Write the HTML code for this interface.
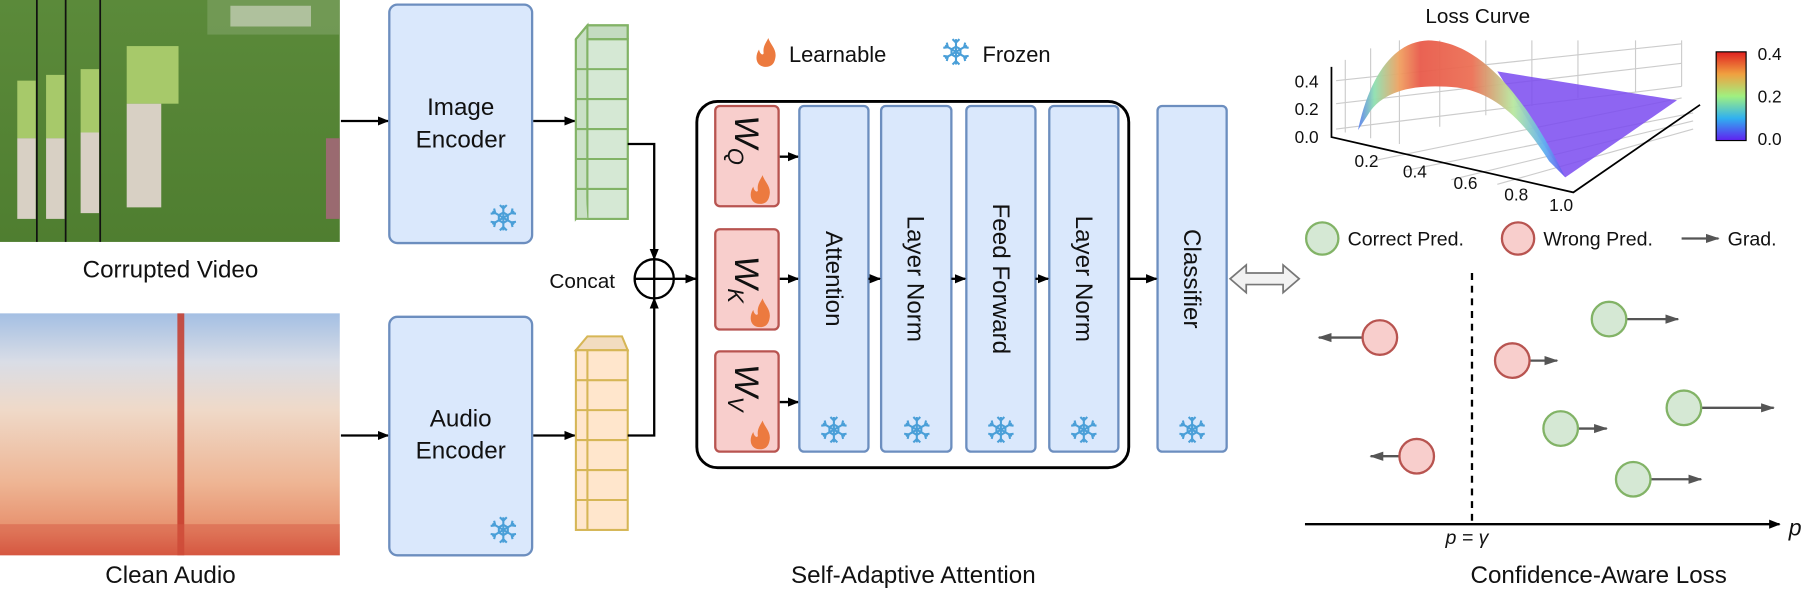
<!DOCTYPE html>
<html><head><meta charset="utf-8"><style>
html,body{margin:0;padding:0;background:#fff;width:1806px;height:591px;overflow:hidden;}
svg text{font-family:"Liberation Sans",sans-serif;fill:#111;}
</style></head><body>
<svg width="1806" height="591" viewBox="0 0 1568 513" preserveAspectRatio="none" xmlns="http://www.w3.org/2000/svg" style="display:block">
<defs>
<marker id="ah" markerWidth="10" markerHeight="10" refX="9" refY="5" orient="auto" markerUnits="userSpaceOnUse"><path d="M0,1 L10,5 L0,9 Z" fill="#000"/></marker>
<marker id="ag" markerWidth="12" markerHeight="10" refX="11" refY="5" orient="auto" markerUnits="userSpaceOnUse"><path d="M0,1 L12,5 L0,9 Z" fill="#555"/></marker>
<linearGradient id="spec" x1="0" y1="0" x2="0" y2="1">
<stop offset="0" stop-color="#a4bfe3"/><stop offset="0.2" stop-color="#d9dde6"/><stop offset="0.4" stop-color="#efd9c8"/><stop offset="0.7" stop-color="#eeb594"/><stop offset="0.9" stop-color="#e78f6c"/><stop offset="1" stop-color="#d6553e"/></linearGradient>
<linearGradient id="grass" x1="0" y1="0" x2="0" y2="1"><stop offset="0" stop-color="#5b8a3a"/><stop offset="1" stop-color="#4f7e30"/></linearGradient>
<linearGradient id="surf" x1="1179" y1="0" x2="1359" y2="0" gradientUnits="userSpaceOnUse">
<stop offset="0" stop-color="#5a7ff0"/><stop offset="0.08" stop-color="#8fe0b0"/><stop offset="0.2" stop-color="#f0a060"/><stop offset="0.3" stop-color="#e85a4a"/><stop offset="0.55" stop-color="#ec7055"/><stop offset="0.75" stop-color="#b8e8a0"/><stop offset="0.9" stop-color="#60b0f0"/><stop offset="1" stop-color="#6a50f0"/></linearGradient>
<linearGradient id="cbar" x1="0" y1="0" x2="0" y2="1"><stop offset="0" stop-color="#e02020"/><stop offset="0.25" stop-color="#f0a040"/><stop offset="0.5" stop-color="#a0f080"/><stop offset="0.75" stop-color="#30b0f0"/><stop offset="1" stop-color="#6020f0"/></linearGradient>
<g id="snow" stroke="#4a9fd8" stroke-width="1.8" fill="none">
<path d="M0,-11V11M-9.5,-5.5L9.5,5.5M-9.5,5.5L9.5,-5.5"/>
<path d="M-3,-11L0,-8L3,-11M-3,11L0,8L3,11M-11,-3.5L-7,-4L-8,-8M11,3.5L7,4L8,8M-11,3.5L-7,4L-8,8M11,-3.5L7,-4L8,-8"/>
<path d="M0,-4.5L3.9,-2.25L3.9,2.25L0,4.5L-3.9,2.25L-3.9,-2.25Z"/></g>
<g id="flame"><path d="M0,12 C-9,12 -10,3 -6,-3 C-5,2 -2,2 -2,0 C-3,-6 1,-10 2,-13 C4,-7 10,-3 8,5 C7,10 4,12 0,12Z" fill="#ec7a3f"/></g>
</defs>

<!-- video -->
<rect x="0" y="0" width="295" height="210" fill="url(#grass)"/>
<rect x="180" y="0" width="115" height="30" fill="#7aa060" opacity="0.7"/>
<rect x="200" y="5" width="70" height="18" fill="#d8dccf" opacity="0.6"/>
<g fill="#a7c96a"><rect x="15" y="70" width="16" height="50"/><rect x="40" y="65" width="16" height="55"/><rect x="70" y="60" width="16" height="55"/><rect x="110" y="40" width="45" height="50"/></g>
<g fill="#d8d0c4"><rect x="15" y="120" width="16" height="70"/><rect x="40" y="120" width="16" height="70"/><rect x="70" y="115" width="16" height="70"/><rect x="110" y="90" width="30" height="90"/></g>
<rect x="283" y="120" width="12" height="70" fill="#9a6a70"/>
<g stroke="#111" stroke-width="1.5"><line x1="32" y1="0" x2="32" y2="210"/><line x1="57" y1="0" x2="57" y2="210"/><line x1="87" y1="0" x2="87" y2="210"/></g>
<text x="148" y="241" font-size="21" text-anchor="middle">Corrupted Video</text>

<!-- spectrogram -->
<rect x="0" y="272" width="295" height="210" fill="url(#spec)"/>
<rect x="154" y="272" width="6" height="210" fill="#c63a2a" opacity="0.85"/>
<rect x="0" y="455" width="295" height="27" fill="#d65a44" opacity="0.5"/>
<text x="148" y="506" font-size="21" text-anchor="middle">Clean Audio</text>

<!-- encoders -->
<line x1="296" y1="105" x2="337" y2="105" stroke="#000" stroke-width="2" marker-end="url(#ah)"/>
<line x1="296" y1="378" x2="337" y2="378" stroke="#000" stroke-width="2" marker-end="url(#ah)"/>
<rect x="338" y="4" width="124" height="207" rx="7" fill="#dae8fc" stroke="#6c8ebf" stroke-width="2"/>
<text x="400" y="100" font-size="21" text-anchor="middle">Image</text><text x="400" y="128" font-size="21" text-anchor="middle">Encoder</text>
<use href="#snow" x="437" y="189"/>
<rect x="338" y="275" width="124" height="207" rx="7" fill="#dae8fc" stroke="#6c8ebf" stroke-width="2"/>
<text x="400" y="370" font-size="21" text-anchor="middle">Audio</text><text x="400" y="398" font-size="21" text-anchor="middle">Encoder</text>
<use href="#snow" x="437" y="460"/>
<line x1="463" y1="105" x2="499" y2="105" stroke="#000" stroke-width="2" marker-end="url(#ah)"/>
<line x1="463" y1="378" x2="499" y2="378" stroke="#000" stroke-width="2" marker-end="url(#ah)"/>

<!-- token stacks -->
<g stroke="#82b366" stroke-width="1.8">
<path d="M500,34 L510,22 L545,22 L545,190 L510,190 Z" fill="#c4dbc0"/>
<path d="M500,34 L510,22 L510,178 L500,190Z" fill="#c9e0c5"/>
<rect x="510" y="34" width="35" height="156" fill="#d5e8d4"/>
<path d="M500,34 V190 L510,190" fill="#c9e0c5"/>
<path d="M510,34H545M500,34L510,22H545V34" fill="none"/>
<g fill="none"><path d="M510,60H545M510,86H545M510,112H545M510,138H545M510,164H545M500,60L510,60M500,86L510,86M500,112L510,112M500,138L510,138M500,164L510,164"/></g>
</g>
<g stroke="#d6b656" stroke-width="1.8" fill="#ffe6cc">
<path d="M500,304 L510,292 L540,292 L545,304Z" fill="#f2dcc0"/>
<rect x="500" y="304" width="45" height="156"/>
<line x1="510" y1="304" x2="510" y2="460"/>
<g fill="none"><path d="M500,330H545M500,356H545M500,382H545M500,408H545M500,434H545"/></g>
</g>
<polyline points="545,125 568,125 568,225" fill="none" stroke="#000" stroke-width="2" marker-end="url(#ah)"/>
<polyline points="545,378 568,378 568,259" fill="none" stroke="#000" stroke-width="2" marker-end="url(#ah)"/>
<circle cx="568" cy="242" r="17" fill="#fff" stroke="#000" stroke-width="2"/>
<path d="M551,242H585M568,225V259" stroke="#000" stroke-width="2"/>
<text x="477" y="250" font-size="18">Concat</text>
<line x1="585" y1="242" x2="604" y2="242" stroke="#000" stroke-width="2" marker-end="url(#ah)"/>

<!-- legend -->
<use href="#flame" x="665" y="46"/><text x="685" y="54" font-size="19">Learnable</text>
<use href="#snow" x="830" y="45"/><text x="853" y="54" font-size="19">Frozen</text>

<!-- big box -->
<rect x="605" y="88" width="375" height="318" rx="18" fill="#fff" stroke="#000" stroke-width="2.5"/>
<g fill="#f8cecc" stroke="#b85450" stroke-width="2">
<rect x="621" y="92" width="55" height="87" rx="4"/><rect x="621" y="199" width="55" height="87" rx="4"/><rect x="621" y="305" width="55" height="87" rx="4"/>
</g>
<g font-family="Liberation Serif" font-style="italic" font-size="30">
<text transform="translate(638,100) rotate(90)">W<tspan font-size="19" dy="6">Q</tspan></text>
<text transform="translate(638,222) rotate(90)">W<tspan font-size="19" dy="6">K</tspan></text>
<text transform="translate(638,316) rotate(90)">W<tspan font-size="19" dy="6">V</tspan></text>
</g>
<use href="#flame" x="660" y="165"/><use href="#flame" x="660" y="272"/><use href="#flame" x="660" y="378"/>
<g stroke="#000" stroke-width="2" marker-end="url(#ah)"><line x1="677" y1="136" x2="693" y2="136"/><line x1="677" y1="242" x2="693" y2="242"/><line x1="677" y1="349" x2="693" y2="349"/></g>
<g fill="#dae8fc" stroke="#6c8ebf" stroke-width="2">
<rect x="694" y="92" width="60" height="300" rx="4"/><rect x="765" y="92" width="61" height="300" rx="4"/><rect x="839" y="92" width="60" height="300" rx="4"/><rect x="911" y="92" width="60" height="300" rx="4"/><rect x="1005" y="92" width="60" height="300" rx="4"/>
</g>
<g font-size="21">
<text transform="translate(717,242) rotate(90)" text-anchor="middle">Attention</text>
<text transform="translate(788,242) rotate(90)" text-anchor="middle">Layer Norm</text>
<text transform="translate(862,242) rotate(90)" text-anchor="middle">Feed Forward</text>
<text transform="translate(934,242) rotate(90)" text-anchor="middle">Layer Norm</text>
<text transform="translate(1028,242) rotate(90)" text-anchor="middle">Classifier</text>
</g>
<use href="#snow" x="724" y="373"/><use href="#snow" x="796" y="373"/><use href="#snow" x="869" y="373"/><use href="#snow" x="941" y="373"/><use href="#snow" x="1035" y="373"/>
<g stroke="#000" stroke-width="2" marker-end="url(#ah)"><line x1="754" y1="242" x2="764" y2="242"/><line x1="826" y1="242" x2="838" y2="242"/><line x1="899" y1="242" x2="910" y2="242"/><line x1="980" y1="242" x2="1004" y2="242"/></g>
<text x="793" y="506" font-size="21" text-anchor="middle">Self-Adaptive Attention</text>

<!-- double arrow -->
<path d="M1068,242 L1082,230 L1082,237 L1114,237 L1114,230 L1128,242 L1114,254 L1114,247 L1082,247 L1082,254Z" fill="#f2f2f2" stroke="#777" stroke-width="1.5"/>

<!-- 3D plot -->
<text x="1283" y="20" font-size="18" text-anchor="middle">Loss Curve</text>
<g stroke="#ccc" stroke-width="1" fill="none">
<path d="M1168,115 L1168,52 M1190,120 L1190,42 M1215,125 L1215,35 M1250,110 L1250,35 M1290,100 L1290,35 M1330,92 L1330,35 M1370,85 L1370,35 M1420,80 L1420,35 M1460,75 L1460,35"/>
<path d="M1160,112 L1460,75 M1190,140 L1460,85 M1160,90 L1460,55 M1160,70 L1460,38 M1220,148 L1470,98 M1260,156 L1470,105 M1300,160 L1470,112"/>
</g>
<path d="M1300,62 L1456,87 L1359,154 L1330,110Z" fill="#7a4af0" opacity="0.85"/>
<path d="M1179,113 C1190,62 1212,36 1240,35 C1290,36 1330,95 1359,154 L1345,140 C1320,100 1295,80 1265,76 C1235,73 1205,76 1190,96 Z" fill="url(#surf)" opacity="0.95"/>
<path d="M1156,58 V119 L1366,167 L1476,91" fill="none" stroke="#000" stroke-width="1.5"/>
<g font-size="15"><text x="1124" y="76">0.4</text><text x="1124" y="100">0.2</text><text x="1124" y="124">0.0</text>
<text x="1176" y="145">0.2</text><text x="1218" y="154">0.4</text><text x="1262" y="164">0.6</text><text x="1306" y="174">0.8</text><text x="1345" y="183">1.0</text></g>
<rect x="1490" y="45" width="26" height="77" fill="url(#cbar)" stroke="#000" stroke-width="1"/>
<g font-size="15"><text x="1526" y="52">0.4</text><text x="1526" y="89">0.2</text><text x="1526" y="126">0.0</text></g>

<!-- legend right -->
<circle cx="1148" cy="207" r="14" fill="#d5e8d4" stroke="#82b366" stroke-width="2"/><text x="1170" y="213" font-size="17">Correct Pred.</text>
<circle cx="1318" cy="207" r="14" fill="#f8cecc" stroke="#b85450" stroke-width="2"/><text x="1340" y="213" font-size="17">Wrong Pred.</text>
<line x1="1460" y1="207" x2="1492" y2="207" stroke="#555" stroke-width="2" marker-end="url(#ag)"/><text x="1500" y="213" font-size="17">Grad.</text>

<line x1="1278" y1="237" x2="1278" y2="455" stroke="#000" stroke-width="2" stroke-dasharray="6,5"/>
<line x1="1133" y1="455" x2="1545" y2="455" stroke="#000" stroke-width="2" marker-end="url(#ah)"/>
<text x="1553" y="465" font-size="20" font-family="Liberation Serif" font-style="italic">p</text>
<text x="1255" y="472" font-size="17" font-family="Liberation Serif" font-style="italic">p = γ</text>

<g stroke="#555" stroke-width="2" marker-end="url(#ag)">
<line x1="1183" y1="293" x2="1145" y2="293"/><line x1="1328" y1="313" x2="1352" y2="313"/><line x1="1412" y1="277" x2="1457" y2="277"/>
<line x1="1477" y1="354" x2="1540" y2="354"/><line x1="1370" y1="372" x2="1395" y2="372"/><line x1="1215" y1="396" x2="1190" y2="396"/><line x1="1433" y1="416" x2="1477" y2="416"/>
</g>
<g stroke-width="2">
<circle cx="1198" cy="293" r="15" fill="#f8cecc" stroke="#b85450"/><circle cx="1313" cy="313" r="15" fill="#f8cecc" stroke="#b85450"/><circle cx="1230" cy="396" r="15" fill="#f8cecc" stroke="#b85450"/>
<circle cx="1397" cy="277" r="15" fill="#d5e8d4" stroke="#82b366"/><circle cx="1462" cy="354" r="15" fill="#d5e8d4" stroke="#82b366"/><circle cx="1355" cy="372" r="15" fill="#d5e8d4" stroke="#82b366"/><circle cx="1418" cy="416" r="15" fill="#d5e8d4" stroke="#82b366"/>
</g>
<text x="1388" y="506" font-size="21" text-anchor="middle">Confidence-Aware Loss</text>
</svg>
</body></html>
